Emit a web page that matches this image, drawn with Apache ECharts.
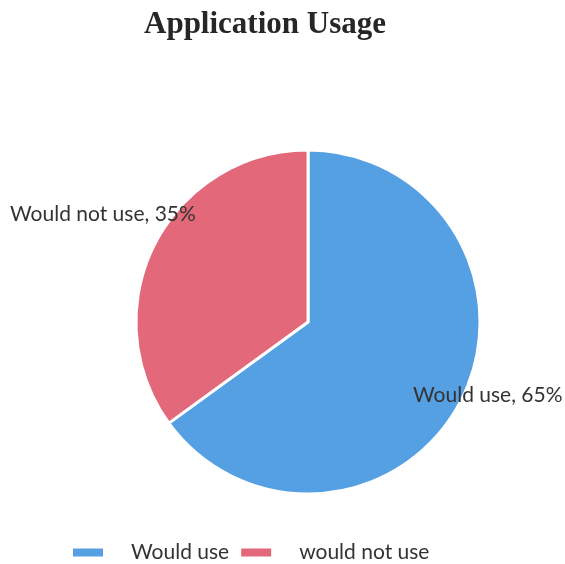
<!DOCTYPE html>
<html><head><meta charset="utf-8">
<script src="https://cdn.jsdelivr.net/npm/echarts@6/dist/echarts.min.js"></script>
<style>html,body{margin:0;padding:0;background:#fff}#c{width:565px;height:564px}</style>
</head><body><div id="c"></div>
<script>
const categories = ["Would use", "Would not use"];
const legendNames = ["Would use", "would not use"];
const values = [65, 35];
const colors = ["#559fe3", "#e2687a"];

const chart = echarts.init(document.getElementById('c'), null, {renderer: 'canvas'});
const labelPos = [{x: 413, y: 395, align: 'left'}, {x: 10, y: 214, align: 'left'}];
chart.setOption({
  animation: false,
  backgroundColor: '#fff',
  title: {
    text: 'Application Usage', left: 260, top: 4, textAlign: 'center',
    textStyle: {fontFamily: 'Liberation Serif', fontWeight: 'bold', fontSize: 31, color: '#262626'}
  },
  legend: {
    left: 66, top: 537, itemWidth: 32, itemHeight: 10, itemGap: 10,
    icon: 'rect',
    data: legendNames,
    textStyle: {fontFamily: 'Lato', fontSize: 21, color: '#333', padding: [0, 0, 0, 22]}
  },
  series: [{
    type: 'pie',
    center: [308, 322], radius: 172,
    startAngle: 90, clockwise: true,
    itemStyle: {borderColor: '#fff', borderWidth: 3},
    label: {
      show: true, position: 'inside',
      formatter: p => p.data.label + ', ' + p.value + '%',
      fontFamily: 'Lato', fontSize: 21, color: '#333'
    },
    labelLine: {show: false},
    labelLayout: function (params) {
      const lp = labelPos[params.dataIndex];
      return {x: lp.x, y: lp.y, align: lp.align, verticalAlign: 'middle'};
    },
    data: values.map((v, i) => ({
      value: v, name: legendNames[i], label: categories[i],
      itemStyle: {color: colors[i]}
    }))
  }]
});
</script></body></html>
